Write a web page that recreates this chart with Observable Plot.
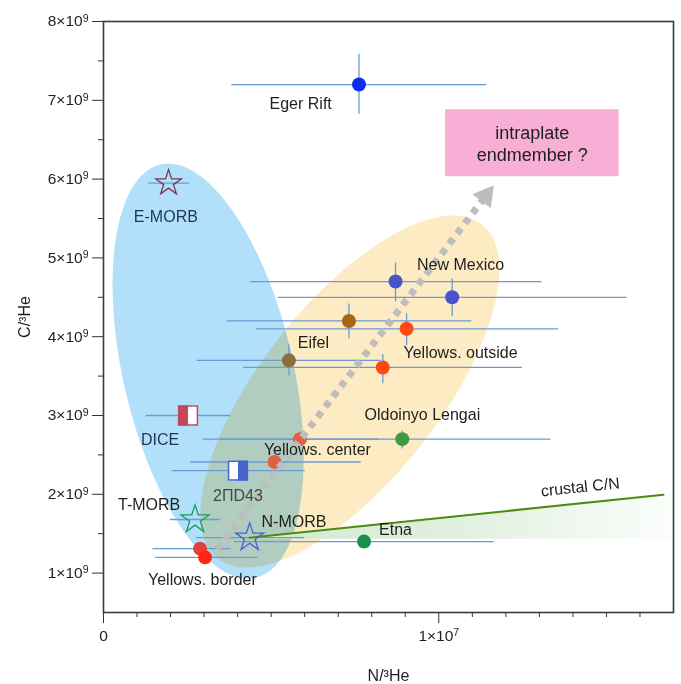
<!DOCTYPE html>
<html>
<head>
<meta charset="utf-8">
<script src="https://cdn.jsdelivr.net/npm/d3@7"></script>
<script src="https://cdn.jsdelivr.net/npm/@observablehq/plot@0.6"></script>
<style>
  html, body { margin: 0; padding: 0; background: #fff; }
  #chart svg { display: block; }
</style>
</head>
<body>
<div id="chart"></div>
<script>
// ---------------- DATA ----------------
// circles with error bars
const pointNames = ["Eger Rift", "New Mexico a", "New Mexico b", "Eifel a", "Eifel b",
  "Yellows. outside a", "Yellows. outside b", "Oldoinyo Lengai", "Yellows. center a",
  "Yellows. center b", "Etna", "Yellows. border a", "Yellows. border b"];
const pointX = [0.762e7, 0.871e7, 1.040e7, 0.732e7, 0.553e7, 0.904e7, 0.833e7, 0.891e7, 0.586e7, 0.510e7, 0.777e7, 0.288e7, 0.303e7];
const pointY = [7.20e9, 4.70e9, 4.50e9, 4.20e9, 3.70e9, 4.10e9, 3.61e9, 2.70e9, 2.70e9, 2.41e9, 1.40e9, 1.31e9, 1.20e9];
const pointXLow  = [0.381e7, 0.437e7, 0.520e7, 0.367e7, 0.278e7, 0.454e7, 0.417e7, 0.295e7, 0.350e7, 0.258e7, 0.389e7, 0.146e7, 0.154e7];
const pointXHigh = [1.142e7, 1.306e7, 1.560e7, 1.097e7, 0.826e7, 1.356e7, 1.248e7, 1.333e7, 0.820e7, 0.767e7, 1.164e7, 0.379e7, 0.459e7];
const pointYLow  = [6.83e9, 4.45e9, 4.26e9, 3.98e9, 3.51e9, 3.89e9, 3.41e9, 2.58e9, 2.62e9, null, null, null, null];
const pointYHigh = [7.59e9, 4.94e9, 4.74e9, 4.42e9, 3.90e9, 4.30e9, 3.78e9, 2.81e9, 2.80e9, null, null, null, null];

// MORB stars
const starNames = ["E-MORB", "T-MORB", "N-MORB"];
const starX = [0.194e7, 0.273e7, 0.436e7];
const starY = [5.95e9, 1.68e9, 1.45e9];
const starXLow = [0.134e7, 0.198e7, 0.275e7];
const starXHigh = [0.255e7, 0.347e7, 0.598e7];

// half-filled squares
const squareNames = ["DICE", "2ΠD43"];
const squareX = [0.252e7, 0.401e7];
const squareY = [3.00e9, 2.30e9];
const squareXLow = [0.126e7, 0.203e7];
const squareXHigh = [0.377e7, 0.600e7];

// crustal C/N line
const crustX = [0.436e7, 1.670e7];
const crustY = [1.45e9, 1.994e9];
const crustBandBase = 1.43e9;

// trend arrow
const arrowX = [0.338e7, 1.164e7];
const arrowY = [1.30e9, 5.92e9];

// endmember box
const boxX = [1.020e7, 1.538e7];
const boxY = [6.03e9, 6.88e9];
const boxText = "intraplate\nendmember ?";

// field ellipses (center in data units, semi-axes in pixels, angle in degrees)
const ellipseNames = ["MORB field", "intraplate field"];
const ellipseCX = [0.312e7, 0.735e7];
const ellipseCY = [3.564e9, 3.304e9];
const ellipseA = [212, 213];
const ellipseB = [85, 89];
const ellipseAngle = [103, 51.7];

// sample labels
const labelText = ["Eger Rift", "New Mexico", "Eifel", "Yellows. outside", "Oldoinyo Lengai",
  "Yellows. center", "DICE", "2ΠD43", "T-MORB", "N-MORB", "Etna", "Yellows. border", "E-MORB"];
const labelX = [0.588e7, 1.065e7, 0.626e7, 1.065e7, 0.951e7, 0.638e7, 0.169e7, 0.401e7, 0.136e7, 0.568e7, 0.871e7, 0.295e7, 0.186e7];
const labelY = [6.96e9, 4.906e9, 3.922e9, 3.799e9, 3.009e9, 2.569e9, 2.692e9, 1.985e9, 1.871e9, 1.656e9, 1.554e9, 0.916e9, 5.523e9];

// axes
const yMajorTicks = [1e9, 2e9, 3e9, 4e9, 5e9, 6e9, 7e9, 8e9];
const yMinorTicks = [1.5e9, 2.5e9, 3.5e9, 4.5e9, 5.5e9, 6.5e9, 7.5e9];
const xMajorTicks = [0, 1e7];
const xMinorTicks = [1e6, 2e6, 3e6, 4e6, 5e6, 6e6, 7e6, 8e6, 9e6, 11e6, 12e6, 13e6, 14e6, 15e6, 16e6];

// ---------------- LAYOUT / STYLE ----------------
const W = 681, H = 684, ML = 103, MR = 8, MT = 21, MB = 72;
const xDomain = [0, 1.7e7], yDomain = [0.5e9, 8e9];
const pxX = (xDomain[1] - xDomain[0]) / (W - ML - MR);
const pxY = (yDomain[1] - yDomain[0]) / (H - MT - MB);
const FONT = "'Liberation Sans', Arial, Helvetica, sans-serif";

const pointColors = ["#0b2ff2", "#4953cc", "#4953cc", "#a6650f", "#8d6d3c", "#ff4a16", "#ff4a16",
  "#3f9a41", "#dd6245", "#dc6245", "#15904f", "#e2403c", "#ff2612"];
const starColors = ["#7a3552", "#1e9a5a", "#4a5fd0"];
const squareColors = ["#c2485a", "#4666cc"];
const ellipseFills = ["#b2dff9", "#fdebc4"];
const labelColors = {"DICE": "#1e3550", "E-MORB": "#1e3550", "2ΠD43": "#3e4a44"};
const errColor = "#6b9bd6";

// ---------------- TABLES ----------------
const points = pointNames.map((n, i) => ({name: n, x: pointX[i], y: pointY[i],
  xlo: pointXLow[i], xhi: pointXHigh[i], ylo: pointYLow[i], yhi: pointYHigh[i], color: pointColors[i]}));
const stars = starNames.map((n, i) => ({name: n, x: starX[i], y: starY[i], xlo: starXLow[i], xhi: starXHigh[i], color: starColors[i]}));
const squares = squareNames.map((n, i) => ({name: n, x: squareX[i], y: squareY[i], xlo: squareXLow[i], xhi: squareXHigh[i], color: squareColors[i]}));
const labels = labelText.map((t, i) => ({text: t, x: labelX[i], y: labelY[i], color: labelColors[t] || "#1f1f1f"}));
const hbars = [...points, ...stars, ...squares];
const vbars = points.filter(d => d.ylo != null);

function ellipsePts(i, n = 200) {
  const th = ellipseAngle[i] * Math.PI / 180;
  const ux = Math.cos(th), uy = Math.sin(th);
  const a = ellipseA[i], b = ellipseB[i];
  const pts = [];
  for (let k = 0; k <= n; k++) {
    const t = 2 * Math.PI * k / n;
    const dx = a * Math.cos(t) * ux - b * Math.sin(t) * uy;
    const dy = a * Math.cos(t) * uy + b * Math.sin(t) * ux;
    pts.push({x: ellipseCX[i] + dx * pxX, y: ellipseCY[i] + dy * pxY});
  }
  return pts;
}

const slope = (crustY[1] - crustY[0]) / (crustX[1] - crustX[0]);
const band = [
  {x: crustX[0], y1: crustBandBase, y2: crustY[0]},
  {x: xDomain[1], y1: crustBandBase, y2: crustY[0] + slope * (xDomain[1] - crustX[0])}
];

const crust = crustX.map((x, i) => ({x, y: crustY[i]}));
const frac = 0.968;
const arrowLine = [
  {x: arrowX[0], y: arrowY[0]},
  {x: arrowX[0] + frac * (arrowX[1] - arrowX[0]), y: arrowY[0] + frac * (arrowY[1] - arrowY[0])}
];
const arrowTip = [{x: arrowX[1], y: arrowY[1]}];
const box = [{x1: boxX[0], x2: boxX[1], y1: boxY[0], y2: boxY[1]}];

const leftHalf = {draw(ctx, size) { const s = Math.sqrt(size); ctx.rect(-s / 2, -s / 2, s / 2, s); }};
const rightHalf = {draw(ctx, size) { const s = Math.sqrt(size); ctx.rect(0, -s / 2, s / 2, s); }};

const sup = (m, e) => `${m}×10^${e}`;

const chart = Plot.plot({
  width: W, height: H,
  marginLeft: ML, marginRight: MR, marginTop: MT, marginBottom: MB,
  style: {fontFamily: FONT, fontSize: "15.5px", color: "#1f1f1f", background: "#fff"},
  x: {domain: xDomain},
  y: {domain: yDomain},
  marks: [
    Plot.line(ellipsePts(0), {x: "x", y: "y", fill: ellipseFills[0], stroke: "none"}),
    Plot.line(ellipsePts(1), {x: "x", y: "y", fill: ellipseFills[1], stroke: "none", mixBlendMode: "multiply"}),
    Plot.areaY(band, {x: "x", y1: "y1", y2: "y2", fill: "url(#crustGrad)"}),
    Plot.rect(box, {x1: "x1", x2: "x2", y1: "y1", y2: "y2", fill: "#f8afd6"}),
    Plot.text([boxText], {x: (boxX[0] + boxX[1]) / 2, y: (boxY[0] + boxY[1]) / 2, text: d => d, fontSize: 18, lineHeight: 1.22, fill: "#1f1f1f"}),
    Plot.link(hbars, {x1: "xlo", x2: "xhi", y1: "y", y2: "y", stroke: errColor, strokeWidth: 1.3}),
    Plot.link(vbars, {x1: "x", x2: "x", y1: "ylo", y2: "yhi", stroke: errColor, strokeWidth: 1.3}),
    Plot.line(crust, {x: "x", y: "y", stroke: "#4b8b0e", strokeWidth: 2}),
    Plot.dot(points, {x: "x", y: "y", r: 7, fill: d => d.color, stroke: "none"}),
    Plot.dot(squares, {x: "x", y: "y", r: 11.28, symbol: "square", fill: "white", stroke: "none"}),
    Plot.dot(squares.slice(0, 1), {x: "x", y: "y", r: 11.28, symbol: leftHalf, fill: d => d.color, stroke: "none"}),
    Plot.dot(squares.slice(1), {x: "x", y: "y", r: 11.28, symbol: rightHalf, fill: d => d.color, stroke: "none"}),
    Plot.dot(squares, {x: "x", y: "y", r: 10.6, symbol: "square", fill: "none", stroke: d => d.color, strokeWidth: 1.5}),
    Plot.dot(stars.slice(0, 1), {x: "x", y: "y", r: 8, symbol: "star", fill: "none", stroke: d => d.color, strokeWidth: 1.3}),
    Plot.dot(stars.slice(1), {x: "x", y: "y", r: 8.8, symbol: "star", fill: "none", stroke: d => d.color, strokeWidth: 1.3}),
    Plot.line(arrowLine, {x: "x", y: "y", stroke: "#bdbdbd", strokeWidth: 7, strokeDasharray: "6.5,6.3", strokeLinecap: "butt"}),
    Plot.dot(arrowTip, {x: "x", y: "y", symbol: "triangle", r: 8.6, fill: "#bdbdbd", stroke: "none", rotate: 37.3, dx: -8.1, dy: 10.6}),
    Plot.text(labels, {x: "x", y: "y", text: "text", fill: d => d.color, fontSize: 16}),
    Plot.text(["crustal C/N"], {x: 1.422e7, y: 2.09e9, text: d => d, rotate: -6, fontSize: 16, fill: "#1f1f1f"}),
    Plot.frame({stroke: "#3a3a3a", strokeWidth: 1.6}),
    Plot.axisY({ticks: yMajorTicks, tickSize: 11, tickPadding: 4, tickFormat: d => sup(d / 1e9, 9), label: null, stroke: "#333"}),
    Plot.axisY({ticks: yMinorTicks, tickSize: 5, tickFormat: () => "", label: null, stroke: "#333"}),
    Plot.axisX({ticks: xMajorTicks, tickSize: 11, tickPadding: 6, tickFormat: d => d === 0 ? "0" : sup(d / 1e7, 7), label: null, stroke: "#333"}),
    Plot.axisX({ticks: xMinorTicks, tickSize: 5, tickFormat: () => "", label: null, stroke: "#333"}),
    Plot.text(["N/³He"], {frameAnchor: "bottom", dy: 63, text: d => d, textAnchor: "middle", lineAnchor: "middle", fontSize: 16, fill: "#1f1f1f"}),
    Plot.text(["C/³He"], {frameAnchor: "left", dx: -79, text: d => d, rotate: -90, textAnchor: "middle", lineAnchor: "middle", fontSize: 16, fill: "#1f1f1f"})
  ]
});

// gradient definition for the crustal band
const svg = d3.select(chart);
const defs = svg.insert("defs", ":first-child");
const grad = defs.append("linearGradient").attr("id", "crustGrad").attr("x1", "0").attr("x2", "1").attr("y1", "0").attr("y2", "0");
grad.append("stop").attr("offset", "0").attr("stop-color", "#d3ead1");
grad.append("stop").attr("offset", "0.45").attr("stop-color", "#deefdc");
grad.append("stop").attr("offset", "1").attr("stop-color", "#fbfdfb");

// superscript exponents in tick labels
svg.selectAll("text").each(function () {
  const t = this.textContent;
  const m = t.match(/^(.*×10)\^(\d+)$/);
  if (m) {
    const el = d3.select(this);
    el.text(null);
    el.append("tspan").text(m[1]);
    el.append("tspan").attr("dy", "-0.45em").attr("font-size", "0.68em").text(m[2]);
  }
});

document.getElementById("chart").appendChild(chart);
</script>
</body>
</html>
